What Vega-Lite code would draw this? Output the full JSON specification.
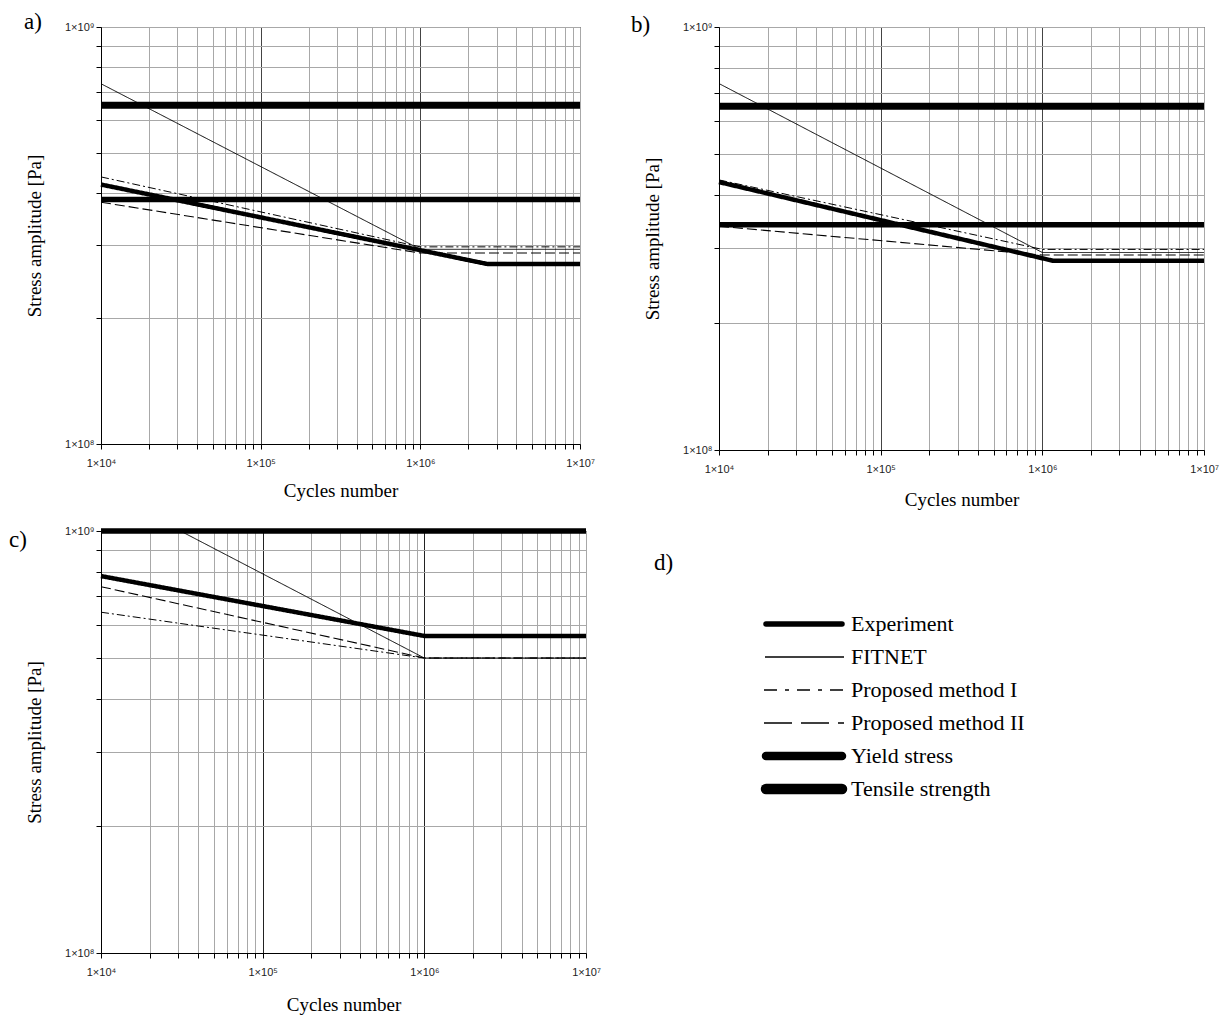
{
  "$schema": "https://vega.github.io/schema/vega-lite/v6.json",
  "padding": {"left": 8, "top": 10, "right": 10, "bottom": 10},
  "background": "white",
  "config": {
    "view": {"stroke": "black", "strokeWidth": 1},
    "axis": {
      "labelFont": "Liberation Sans", "labelFontSize": 11, "labelColor": "#222",
      "titleFont": "Liberation Serif", "titleFontSize": 19, "titleFontWeight": "normal", "titleColor": "black",
      "tickColor": "black", "domainColor": "black", "gridColor": "#a8a8a8", "gridWidth": 1, "tickSize": 5,
      "labelOverlap": false, "labelFlush": false, "labelBound": false
    },
    "line": {"color": "black"},
    "text": {"color": "black"}
  },
  "datasets": {
    "curves": [
      {"panel": "a", "series": "Tensile strength", "N": 1e4, "S": 6.49e8},
      {"panel": "a", "series": "Tensile strength", "N": 1e7, "S": 6.49e8},
      {"panel": "a", "series": "Yield stress", "N": 1e4, "S": 3.86e8},
      {"panel": "a", "series": "Yield stress", "N": 1e7, "S": 3.86e8},
      {"panel": "a", "series": "FITNET", "N": 1e4, "S": 7.31e8},
      {"panel": "a", "series": "FITNET", "N": 1e6, "S": 2.93e8},
      {"panel": "a", "series": "FITNET", "N": 1e7, "S": 2.93e8},
      {"panel": "a", "series": "Proposed method I", "N": 1e4, "S": 4.37e8},
      {"panel": "a", "series": "Proposed method I", "N": 1e6, "S": 2.97e8},
      {"panel": "a", "series": "Proposed method I", "N": 1e7, "S": 2.97e8},
      {"panel": "a", "series": "Proposed method II", "N": 1e4, "S": 3.8e8},
      {"panel": "a", "series": "Proposed method II", "N": 1e6, "S": 2.87e8},
      {"panel": "a", "series": "Proposed method II", "N": 1e7, "S": 2.87e8},
      {"panel": "a", "series": "Experiment", "N": 1e4, "S": 4.19e8},
      {"panel": "a", "series": "Experiment", "N": 2.65e6, "S": 2.7e8},
      {"panel": "a", "series": "Experiment", "N": 1e7, "S": 2.7e8},

      {"panel": "b", "series": "Tensile strength", "N": 1e4, "S": 6.5e8},
      {"panel": "b", "series": "Tensile strength", "N": 1e7, "S": 6.5e8},
      {"panel": "b", "series": "Yield stress", "N": 1e4, "S": 3.41e8},
      {"panel": "b", "series": "Yield stress", "N": 1e7, "S": 3.41e8},
      {"panel": "b", "series": "FITNET", "N": 1e4, "S": 7.35e8},
      {"panel": "b", "series": "FITNET", "N": 1e6, "S": 2.93e8},
      {"panel": "b", "series": "FITNET", "N": 1e7, "S": 2.93e8},
      {"panel": "b", "series": "Proposed method I", "N": 1e4, "S": 4.35e8},
      {"panel": "b", "series": "Proposed method I", "N": 1e6, "S": 2.98e8},
      {"panel": "b", "series": "Proposed method I", "N": 1e7, "S": 2.98e8},
      {"panel": "b", "series": "Proposed method II", "N": 1e4, "S": 3.38e8},
      {"panel": "b", "series": "Proposed method II", "N": 1e6, "S": 2.89e8},
      {"panel": "b", "series": "Proposed method II", "N": 1e7, "S": 2.89e8},
      {"panel": "b", "series": "Experiment", "N": 1e4, "S": 4.3e8},
      {"panel": "b", "series": "Experiment", "N": 1.17e6, "S": 2.8e8},
      {"panel": "b", "series": "Experiment", "N": 1e7, "S": 2.8e8},

      {"panel": "c", "series": "Yield stress", "N": 1e4, "S": 1e9},
      {"panel": "c", "series": "Yield stress", "N": 1e7, "S": 1e9},
      {"panel": "c", "series": "FITNET", "N": 3.1e4, "S": 1e9},
      {"panel": "c", "series": "FITNET", "N": 1e6, "S": 5e8},
      {"panel": "c", "series": "FITNET", "N": 1e7, "S": 5e8},
      {"panel": "c", "series": "Proposed method I", "N": 1e4, "S": 6.42e8},
      {"panel": "c", "series": "Proposed method I", "N": 1e6, "S": 5e8},
      {"panel": "c", "series": "Proposed method I", "N": 1e7, "S": 5e8},
      {"panel": "c", "series": "Proposed method II", "N": 1e4, "S": 7.38e8},
      {"panel": "c", "series": "Proposed method II", "N": 1e6, "S": 5e8},
      {"panel": "c", "series": "Proposed method II", "N": 1e7, "S": 5e8},
      {"panel": "c", "series": "Experiment", "N": 1e4, "S": 7.82e8},
      {"panel": "c", "series": "Experiment", "N": 1e6, "S": 5.64e8},
      {"panel": "c", "series": "Experiment", "N": 1e7, "S": 5.64e8}
    ],
    "legend": [
      {"series": "Experiment"},
      {"series": "FITNET"},
      {"series": "Proposed method I"},
      {"series": "Proposed method II"},
      {"series": "Yield stress"},
      {"series": "Tensile strength"}
    ]
  },
  "bounds": "flush",
  "columns": 2,
  "spacing": {"row": 81, "column": 133},
  "resolve": {"scale": {"x": "independent", "y": "independent", "strokeWidth": "independent", "strokeDash": "independent"}},
  "concat": [
    {
      "width": 479, "height": 417,
      "layer": [
        {
          "data": {"name": "curves"},
          "transform": [{"filter": "datum.panel == 'a'"}],
          "mark": {"type": "line", "strokeCap": "butt"},
          "encoding": {
            "x": {"field": "N", "type": "quantitative", "title": "Cycles number",
              "scale": {"type": "log", "domain": [1e4, 1e7], "nice": false},
              "axis": {"values": [1e4,2e4,3e4,4e4,5e4,6e4,7e4,8e4,9e4,1e5,2e5,3e5,4e5,5e5,6e5,7e5,8e5,9e5,1e6,2e6,3e6,4e6,5e6,6e6,7e6,8e6,9e6,1e7],
                "labelExpr": "abs(log(datum.value)/LN10 - round(log(datum.value)/LN10)) < 1e-6 ? '1×10' + substring('⁰¹²³⁴⁵⁶⁷⁸⁹', round(log(datum.value)/LN10), round(log(datum.value)/LN10)+1) : ''",
                "labelPadding": 8, "titlePadding": 13,
                "gridColor": {"condition": {"test": "datum.value == 100000 || datum.value == 1000000", "value": "#444"}, "value": "#a8a8a8"}}},
            "y": {"field": "S", "type": "quantitative", "title": "Stress amplitude [Pa]",
              "scale": {"type": "log", "domain": [1e8, 1e9], "nice": false},
              "axis": {"values": [1e8,2e8,3e8,4e8,5e8,6e8,7e8,8e8,9e8,1e9],
                "labelExpr": "abs(log(datum.value)/LN10 - round(log(datum.value)/LN10)) < 1e-6 ? '1×10' + substring('⁰¹²³⁴⁵⁶⁷⁸⁹', round(log(datum.value)/LN10), round(log(datum.value)/LN10)+1) : ''",
                "labelPadding": 2, "titlePadding": 20}},
            "strokeWidth": {"field": "series", "type": "nominal", "legend": null,
              "scale": {"type": "ordinal", "domain": ["Experiment","FITNET","Proposed method I","Proposed method II","Yield stress","Tensile strength"], "range": [4.5, 1, 1, 1.1, 5.5, 7]}},
            "strokeDash": {"field": "series", "type": "nominal", "legend": null,
              "scale": {"domain": ["Experiment","FITNET","Proposed method I","Proposed method II","Yield stress","Tensile strength"], "range": [[1,0],[1,0],[8,3,2,3],[10,4],[1,0],[1,0]]}}
          }
        },
        {
          "data": {"values": [{"label": "a)"}]},
          "mark": {"type": "text", "align": "left", "baseline": "middle", "font": "Liberation Serif", "fontSize": 23, "dx": -77, "dy": -5},
          "encoding": {"x": {"datum": 1e4, "type": "quantitative"}, "y": {"datum": 1e9, "type": "quantitative"}, "text": {"field": "label"}}
        }
      ]
    },
    {
      "width": 485, "height": 423,
      "layer": [
        {
          "data": {"name": "curves"},
          "transform": [{"filter": "datum.panel == 'b'"}],
          "mark": {"type": "line", "strokeCap": "butt"},
          "encoding": {
            "x": {"field": "N", "type": "quantitative", "title": "Cycles number",
              "scale": {"type": "log", "domain": [1e4, 1e7], "nice": false},
              "axis": {"values": [1e4,2e4,3e4,4e4,5e4,6e4,7e4,8e4,9e4,1e5,2e5,3e5,4e5,5e5,6e5,7e5,8e5,9e5,1e6,2e6,3e6,4e6,5e6,6e6,7e6,8e6,9e6,1e7],
                "labelExpr": "abs(log(datum.value)/LN10 - round(log(datum.value)/LN10)) < 1e-6 ? '1×10' + substring('⁰¹²³⁴⁵⁶⁷⁸⁹', round(log(datum.value)/LN10), round(log(datum.value)/LN10)+1) : ''",
                "labelPadding": 8, "titlePadding": 16,
                "gridColor": {"condition": {"test": "datum.value == 100000 || datum.value == 1000000", "value": "#444"}, "value": "#a8a8a8"}}},
            "y": {"field": "S", "type": "quantitative", "title": "Stress amplitude [Pa]",
              "scale": {"type": "log", "domain": [1e8, 1e9], "nice": false},
              "axis": {"values": [1e8,2e8,3e8,4e8,5e8,6e8,7e8,8e8,9e8,1e9],
                "labelExpr": "abs(log(datum.value)/LN10 - round(log(datum.value)/LN10)) < 1e-6 ? '1×10' + substring('⁰¹²³⁴⁵⁶⁷⁸⁹', round(log(datum.value)/LN10), round(log(datum.value)/LN10)+1) : ''",
                "labelPadding": 2, "titlePadding": 20}},
            "strokeWidth": {"field": "series", "type": "nominal", "legend": null,
              "scale": {"type": "ordinal", "domain": ["Experiment","FITNET","Proposed method I","Proposed method II","Yield stress","Tensile strength"], "range": [4.5, 1, 1, 1.1, 5.5, 7]}},
            "strokeDash": {"field": "series", "type": "nominal", "legend": null,
              "scale": {"domain": ["Experiment","FITNET","Proposed method I","Proposed method II","Yield stress","Tensile strength"], "range": [[1,0],[1,0],[8,3,2,3],[10,4],[1,0],[1,0]]}}
          }
        },
        {
          "data": {"values": [{"label": "b)"}]},
          "mark": {"type": "text", "align": "left", "baseline": "middle", "font": "Liberation Serif", "fontSize": 23, "dx": -88, "dy": -2},
          "encoding": {"x": {"datum": 1e4, "type": "quantitative"}, "y": {"datum": 1e9, "type": "quantitative"}, "text": {"field": "label"}}
        }
      ]
    },
    {
      "width": 485, "height": 422,
      "layer": [
        {
          "data": {"name": "curves"},
          "transform": [{"filter": "datum.panel == 'c'"}],
          "mark": {"type": "line", "strokeCap": "butt"},
          "encoding": {
            "x": {"field": "N", "type": "quantitative", "title": "Cycles number",
              "scale": {"type": "log", "domain": [1e4, 1e7], "nice": false},
              "axis": {"values": [1e4,2e4,3e4,4e4,5e4,6e4,7e4,8e4,9e4,1e5,2e5,3e5,4e5,5e5,6e5,7e5,8e5,9e5,1e6,2e6,3e6,4e6,5e6,6e6,7e6,8e6,9e6,1e7],
                "labelExpr": "abs(log(datum.value)/LN10 - round(log(datum.value)/LN10)) < 1e-6 ? '1×10' + substring('⁰¹²³⁴⁵⁶⁷⁸⁹', round(log(datum.value)/LN10), round(log(datum.value)/LN10)+1) : ''",
                "labelPadding": 8, "titlePadding": 18,
                "gridColor": {"condition": {"test": "datum.value == 100000 || datum.value == 1000000", "value": "#222"}, "value": "#a8a8a8"}}},
            "y": {"field": "S", "type": "quantitative", "title": "Stress amplitude [Pa]",
              "scale": {"type": "log", "domain": [1e8, 1e9], "nice": false},
              "axis": {"values": [1e8,2e8,3e8,4e8,5e8,6e8,7e8,8e8,9e8,1e9],
                "labelExpr": "abs(log(datum.value)/LN10 - round(log(datum.value)/LN10)) < 1e-6 ? '1×10' + substring('⁰¹²³⁴⁵⁶⁷⁸⁹', round(log(datum.value)/LN10), round(log(datum.value)/LN10)+1) : ''",
                "labelPadding": 2, "titlePadding": 20}},
            "strokeWidth": {"field": "series", "type": "nominal", "legend": null,
              "scale": {"type": "ordinal", "domain": ["Experiment","FITNET","Proposed method I","Proposed method II","Yield stress","Tensile strength"], "range": [4.5, 1, 1, 1.1, 5.5, 7]}},
            "strokeDash": {"field": "series", "type": "nominal", "legend": null,
              "scale": {"domain": ["Experiment","FITNET","Proposed method I","Proposed method II","Yield stress","Tensile strength"], "range": [[1,0],[1,0],[8,3,2,3],[10,4],[1,0],[1,0]]}}
          }
        },
        {
          "data": {"values": [{"label": "c)"}]},
          "mark": {"type": "text", "align": "left", "baseline": "middle", "font": "Liberation Serif", "fontSize": 23, "dx": -92, "dy": 9},
          "encoding": {"x": {"datum": 1e4, "type": "quantitative"}, "y": {"datum": 1e9, "type": "quantitative"}, "text": {"field": "label"}}
        }
      ]
    },
    {
      "width": 300, "height": 351,
      "view": {"stroke": null},
      "data": {"name": "legend"},
      "layer": [
        {
          "transform": [{"filter": "datum.series == 'Experiment'"}],
          "mark": {"type": "rule", "strokeCap": "round", "color": "black", "strokeWidth": 5.5},
          "encoding": {
            "x": {"datum": 47, "type": "quantitative", "scale": {"domain": [0, 300]}, "axis": null},
            "x2": {"datum": 123},
            "y": {"field": "series", "type": "nominal", "axis": null,
              "scale": {"type": "point", "padding": 0, "range": [93, 258], "domain": ["Experiment","FITNET","Proposed method I","Proposed method II","Yield stress","Tensile strength"]}}
          }
        },
        {
          "transform": [{"filter": "datum.series == 'Yield stress'"}],
          "mark": {"type": "rule", "strokeCap": "round", "color": "black", "strokeWidth": 8.5},
          "encoding": {"x": {"datum": 47, "type": "quantitative"}, "x2": {"datum": 123}, "y": {"field": "series", "type": "nominal"}}
        },
        {
          "transform": [{"filter": "datum.series == 'Tensile strength'"}],
          "mark": {"type": "rule", "strokeCap": "round", "color": "black", "strokeWidth": 10.5},
          "encoding": {"x": {"datum": 47, "type": "quantitative"}, "x2": {"datum": 123}, "y": {"field": "series", "type": "nominal"}}
        },
        {
          "transform": [{"filter": "datum.series == 'FITNET'"}],
          "mark": {"type": "rule", "strokeCap": "butt", "color": "black", "strokeWidth": 1.3},
          "encoding": {"x": {"datum": 46, "type": "quantitative"}, "x2": {"datum": 125}, "y": {"field": "series", "type": "nominal"}}
        },
        {
          "transform": [{"filter": "datum.series == 'Proposed method I'"}],
          "mark": {"type": "rule", "strokeCap": "butt", "color": "black", "strokeWidth": 1.6, "strokeDash": [13, 8, 4, 8]},
          "encoding": {"x": {"datum": 45, "type": "quantitative"}, "x2": {"datum": 125}, "y": {"field": "series", "type": "nominal"}}
        },
        {
          "transform": [{"filter": "datum.series == 'Proposed method II'"}],
          "mark": {"type": "rule", "strokeCap": "butt", "color": "black", "strokeWidth": 1.6, "strokeDash": [28, 9]},
          "encoding": {"x": {"datum": 45, "type": "quantitative"}, "x2": {"datum": 125}, "y": {"field": "series", "type": "nominal"}}
        },
        {
          "mark": {"type": "text", "align": "left", "baseline": "middle", "font": "Liberation Serif", "fontSize": 22, "dx": 7},
          "encoding": {
            "x": {"datum": 125, "type": "quantitative"},
            "y": {"field": "series", "type": "nominal"},
            "text": {"field": "series"}
          }
        },
        {
          "data": {"values": [{"label": "d)"}]},
          "mark": {"type": "text", "align": "left", "baseline": "middle", "font": "Liberation Serif", "fontSize": 23, "dy": -61},
          "encoding": {"x": {"datum": -65, "type": "quantitative"}, "y": {"datum": "Experiment", "type": "nominal"}, "text": {"field": "label"}}
        }
      ]
    }
  ]
}
